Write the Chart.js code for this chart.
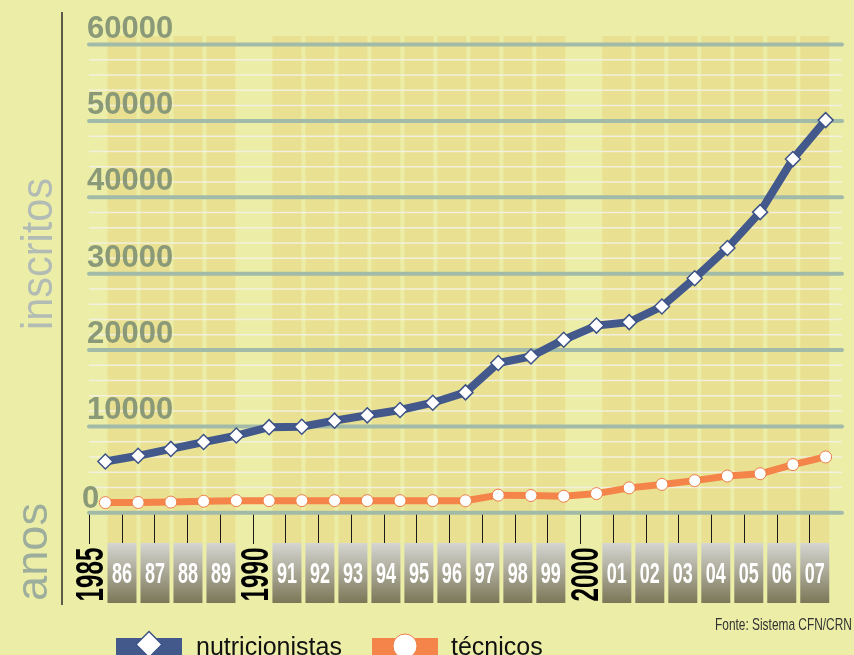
<!DOCTYPE html>
<html>
<head>
<meta charset="utf-8">
<script src="https://cdn.jsdelivr.net/npm/chart.js@4"></script>
<style>
  body { margin: 0; background: #eceea8; }
  canvas { display: block; }
</style>
</head>
<body>
<canvas id="canvas" width="854" height="655"></canvas>
<script>
// anos (eixo x) e inscritos por ano
const years = ['1985','86','87','88','89','1990','91','92','93','94','95','96','97','98','99','2000','01','02','03','04','05','06','07'];
const nutricionistas = [5400, 6150, 7050, 7950, 8800, 9900, 9950, 10750, 11450, 12150, 13100, 14450, 18300, 19150, 21350, 23200, 23650, 25700, 29400, 33350, 38050, 45000, 50100];
const tecnicos = [20, 40, 90, 200, 280, 280, 280, 280, 280, 280, 280, 260, 1000, 950, 850, 1200, 1950, 2400, 2900, 3500, 3800, 5000, 6000];
const yTicks = [0, 10000, 20000, 30000, 40000, 50000, 60000];
const minorStep = 2000;

const BG = '#eceea8';
const BAND = '#e9e091';
const MAJOR = '#a2bba9';
const MINOR = 'rgba(242,240,226,0.95)';
const LABEL = '#8a9977';
const BLUE = '#43598c';
const ORANGE = '#f5844a';

function tickX(x, i) {
  const step = x.getPixelForValue(1) - x.getPixelForValue(0);
  return x.getPixelForValue(i) - step / 2;
}

const deco = {
  id: 'deco',
  beforeDraw(chart) {
    const {ctx, scales: {x, y}, chartArea: a} = chart;
    ctx.save();
    ctx.fillStyle = BG;
    ctx.fillRect(0, 0, chart.width, chart.height);

    // faixas verticais
    ctx.fillStyle = BAND;
    years.forEach((lab, i) => {
      if (lab.length == 2) {
        const cx = tickX(x, i) + i * 0.25;
        ctx.fillRect(cx - 14.5, 36, 29, 543 - 36);
      }
    });

    // grade secundaria
    ctx.strokeStyle = MINOR;
    ctx.lineWidth = 1.5;
    for (let v = minorStep; v <= yTicks[yTicks.length - 1]; v += minorStep) {
      if (v % 10000 == 0) continue;
      const py = y.getPixelForValue(v);
      ctx.beginPath();
      ctx.moveTo(a.left, py);
      ctx.lineTo(a.right, py);
      ctx.stroke();
    }
    // grade principal
    ctx.strokeStyle = MAJOR;
    ctx.lineWidth = 4;
    ctx.lineCap = 'round';
    yTicks.forEach(v => {
      if (v == 0) return;
      const py = y.getPixelForValue(v);
      ctx.beginPath();
      ctx.moveTo(a.left, py);
      ctx.lineTo(a.right, py);
      ctx.stroke();
    });
    // linha base
    ctx.beginPath();
    ctx.moveTo(a.left, a.bottom);
    ctx.lineTo(a.right, a.bottom);
    ctx.stroke();

    // rotulos do eixo y
    ctx.fillStyle = LABEL;
    ctx.font = 'bold 31px "Liberation Sans", Arial, sans-serif';
    ctx.textAlign = 'left';
    ctx.textBaseline = 'alphabetic';
    yTicks.forEach(v => {
      const py = y.getPixelForValue(v);
      if (v == 0) ctx.fillText('0', a.left - 7, py + 5.5);
      else ctx.fillText(String(v), a.left - 2, py - 7);
    });
    ctx.restore();
  },
  afterDraw(chart) {
    const {ctx, scales: {x}, chartArea: a} = chart;
    ctx.save();

    // eixo vertical
    ctx.strokeStyle = '#2a2a2a';
    ctx.lineWidth = 1.5;
    ctx.beginPath();
    ctx.moveTo(62, 12);
    ctx.lineTo(62, 605);
    ctx.stroke();

    // titulos
    function vtext(str, bx, cy, font, color, len) {
      ctx.save();
      ctx.translate(bx, cy);
      ctx.rotate(-Math.PI / 2);
      ctx.font = font;
      const w = ctx.measureText(str).width;
      ctx.scale(len / w, 1);
      ctx.fillStyle = color;
      ctx.textAlign = 'center';
      ctx.textBaseline = 'alphabetic';
      ctx.fillText(str, 0, 0);
      ctx.restore();
    }
    vtext('inscritos', 52, 254, '45px "Liberation Sans", Arial, sans-serif', '#b2bcb4', 152);
    vtext('anos', 47, 552, '45px "Liberation Sans", Arial, sans-serif', '#9dae9d', 98);

    // marcas e caixas dos anos
    years.forEach((lab, i) => {
      const t = tickX(x, i);
      const cx = t + i * 0.25;
      ctx.strokeStyle = '#1a1a1a';
      ctx.lineWidth = 1;
      ctx.beginPath();
      ctx.moveTo(Math.round(t) + 0.5, a.bottom + 2);
      ctx.lineTo(Math.round(t) + 0.5, 544);
      ctx.stroke();
      if (lab.length == 2) {
        const g = ctx.createLinearGradient(0, 543, 0, 603);
        g.addColorStop(0, '#d6d6d2');
        g.addColorStop(1, '#7b7757');
        ctx.fillStyle = g;
        ctx.fillRect(cx - 14.5, 543, 29, 60);
        ctx.save();
        ctx.translate(cx, 583);
        ctx.scale(0.6, 1);
        ctx.font = 'bold 30px "Liberation Sans", Arial, sans-serif';
        ctx.fillStyle = '#ffffff';
        ctx.textAlign = 'center';
        ctx.fillText(lab, 0, 0);
        ctx.restore();
      } else {
        vtext(lab, cx + 14, 574.5, 'bold 39px "Liberation Sans", Arial, sans-serif', '#000000', 54);
      }
    });

    // legenda
    ctx.fillStyle = BLUE;
    ctx.fillRect(116, 638, 66, 18);
    ctx.beginPath();
    ctx.moveTo(149, 631.5);
    ctx.lineTo(162, 644.5);
    ctx.lineTo(149, 657.5);
    ctx.lineTo(136, 644.5);
    ctx.closePath();
    ctx.fillStyle = '#ffffff';
    ctx.fill();
    ctx.strokeStyle = '#3d5387';
    ctx.lineWidth = 1.5;
    ctx.stroke();

    ctx.fillStyle = ORANGE;
    ctx.fillRect(372, 638, 66, 18);
    ctx.beginPath();
    ctx.arc(405, 646, 12, 0, Math.PI * 2);
    ctx.fillStyle = '#ffffff';
    ctx.fill();
    ctx.strokeStyle = '#ee7e46';
    ctx.lineWidth = 1;
    ctx.stroke();

    ctx.fillStyle = '#111111';
    ctx.font = '25px "Liberation Sans", Arial, sans-serif';
    ctx.textAlign = 'left';
    ctx.textBaseline = 'alphabetic';
    ctx.fillText('nutricionistas', 196, 655);
    ctx.fillText('técnicos', 451, 655);

    // fonte
    ctx.save();
    ctx.translate(715, 630);
    ctx.scale(0.7, 1);
    ctx.font = '17px "Liberation Sans", Arial, sans-serif';
    ctx.fillStyle = '#333333';
    ctx.fillText('Fonte: Sistema CFN/CRN', 0, 0);
    ctx.restore();

    ctx.restore();
  }
};

const ctx = document.getElementById('canvas');
new Chart(ctx, {
  type: 'line',
  data: {
    labels: years,
    datasets: [{
      label: 'técnicos',
      data: tecnicos,
      borderColor: ORANGE,
      borderWidth: 7,
      pointRadius: 6,
      pointBackgroundColor: '#ffffff',
      pointBorderColor: '#ee7e46',
      pointBorderWidth: 1,
      tension: 0
    }, {
      label: 'nutricionistas',
      data: nutricionistas,
      borderColor: BLUE,
      borderWidth: 8,
      pointStyle: 'rectRot',
      pointRadius: 7.5,
      pointBackgroundColor: '#ffffff',
      pointBorderColor: '#3d5387',
      pointBorderWidth: 1.5,
      tension: 0
    }]
  },
  options: {
    responsive: false,
    animation: false,
    layout: { padding: { left: 89, right: 12, top: 44.5, bottom: 142.3 } },
    plugins: { legend: { display: false }, tooltip: { enabled: false } },
    scales: {
      x: { type: 'category', offset: true, display: false },
      y: { min: -1300, max: 60000, display: false }
    }
  },
  plugins: [deco]
});
</script>
</body>
</html>
